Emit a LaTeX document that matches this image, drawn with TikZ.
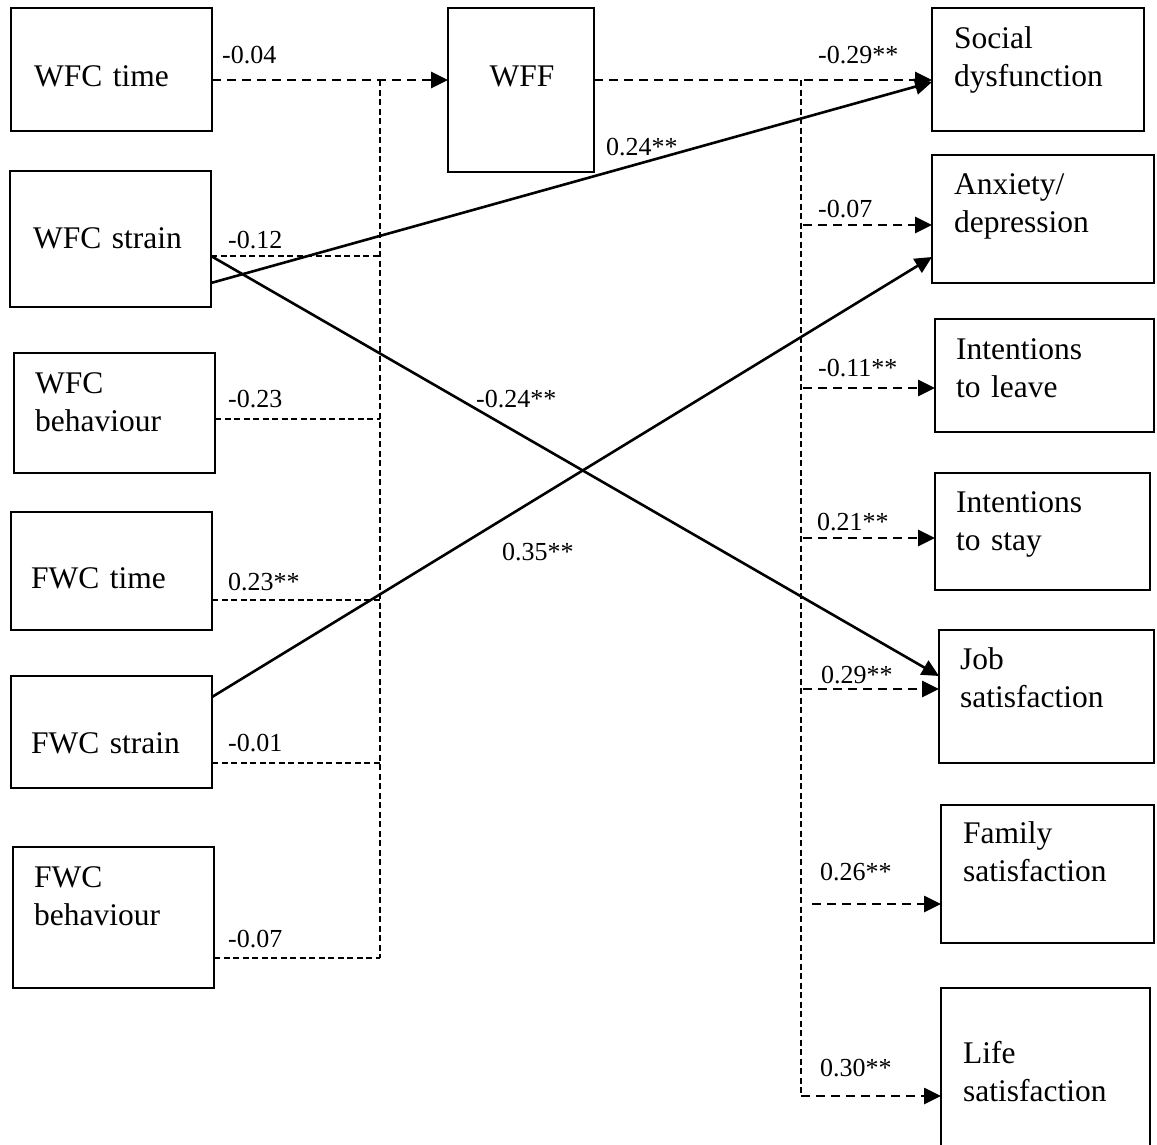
\documentclass[tikz,border=0pt]{standalone}
\usepackage{fontspec}
\setmainfont{Liberation Serif}
\usetikzlibrary{arrows.meta}
\begin{document}
\begin{tikzpicture}[x=1pt,y=-1pt,
  box/.style={draw, line width=2.3pt, inner sep=0pt, outer sep=0pt, anchor=north west},
  boxtext/.style={anchor=base west, inner sep=0pt, text width=190pt, align=left,
    font=\fontsize{31.5}{38}\selectfont},
  coef/.style={anchor=base west, inner sep=0pt, font=\fontsize{26}{30}\selectfont},
  maindash/.style={line width=2.7pt, dash pattern=on 9pt off 6pt},
  feed/.style={line width=1.6pt, dash pattern=on 6pt off 3.5pt},
  direct/.style={line width=2.6pt},
  tip/.style={-{Triangle[length=17pt,width=16pt]}}
]
\useasboundingbox (0,0) rectangle (1157,1144);

% predictors
\node[box, minimum width=201pt, minimum height=123pt] (wfct) at (11,8) {};
\node[box, minimum width=201pt, minimum height=136pt] (wfcs) at (10,171) {};
\node[box, minimum width=201pt, minimum height=120pt] (wfcb) at (14,353) {};
\node[box, minimum width=201pt, minimum height=118pt] (fwct) at (11,512) {};
\node[box, minimum width=201pt, minimum height=112pt] (fwcs) at (11,676) {};
\node[box, minimum width=201pt, minimum height=141pt] (fwcb) at (13,847) {};

% mediator
\node[box, minimum width=146pt, minimum height=164pt] (wff) at (448,8) {};

% outcomes
\node[box, minimum width=212pt, minimum height=123pt] (soc) at (932,8) {};
\node[box, minimum width=222pt, minimum height=128pt] (anx) at (932,155) {};
\node[box, minimum width=219pt, minimum height=113pt] (itl) at (935,319) {};
\node[box, minimum width=215pt, minimum height=117pt] (its) at (935,473) {};
\node[box, minimum width=215pt, minimum height=133pt] (job) at (939,630) {};
\node[box, minimum width=213pt, minimum height=138pt] (fam) at (941,805) {};
\node[box, minimum width=209pt, minimum height=170pt] (life) at (941,988) {};

% box texts
\node[boxtext] (t-wfct) at (34,86) {WFC time};
\node[boxtext] (t-wfcs) at (33,248) {WFC strain};
\node[boxtext] (t-wfcb) at (35,393) {WFC\\behaviour};
\node[boxtext] (t-fwct) at (31,588) {FWC time};
\node[boxtext] (t-fwcs) at (31,753) {FWC strain};
\node[boxtext] (t-fwcb) at (34,887) {FWC\\behaviour};
\node[anchor=base, inner sep=0pt, font=\fontsize{31.5}{38}\selectfont] (t-wff) at (522,86) {WFF};
\node[boxtext] (t-soc) at (954,48) {Social\\dysfunction};
\node[boxtext] (t-anx) at (954,194) {Anxiety/\\depression};
\node[boxtext] (t-itl) at (956,359) {Intentions\\to leave};
\node[boxtext] (t-its) at (956,512) {Intentions\\to stay};
\node[boxtext] (t-job) at (960,669) {Job\\satisfaction};
\node[boxtext] (t-fam) at (963,843) {Family\\satisfaction};
\node[boxtext] (t-life) at (963,1063) {Life\\satisfaction};

% junction points on the two collector lines
\coordinate (lb0) at (380,80);
\coordinate (lb1) at (380,256);
\coordinate (lb2) at (380,419);
\coordinate (lb3) at (380,600);
\coordinate (lb4) at (380,763);
\coordinate (lb5) at (380,958);
\coordinate (rb0) at (801,80);
\coordinate (rb1) at (803,225);
\coordinate (rb2) at (803,388);
\coordinate (rb3) at (803,538);
\coordinate (rb4) at (803,689);
\coordinate (rb5) at (812,904);
\coordinate (rb6) at (801,1096);

% predictors -> WFF
\draw[maindash, tip] (wfct.east |- lb0) -- (wff.west |- lb0);
\draw[feed] (lb0) -- (lb5);
\draw[feed] (wfcs.east |- lb1) -- (lb1);
\draw[feed] (wfcb.east |- lb2) -- (lb2);
\draw[feed] (fwct.east |- lb3) -- (lb3);
\draw[feed] (fwcs.east |- lb4) -- (lb4);
\draw[feed] (fwcb.east |- lb5) -- (lb5);

% WFF -> outcomes
\draw[maindash, tip] (wff.east |- rb0) -- (soc.west |- rb0);
\draw[feed] (rb0) -- (rb6);
\draw[maindash, tip] (rb1) -- (anx.west |- rb1);
\draw[maindash, tip] (rb2) -- (itl.west |- rb2);
\draw[maindash, tip] (rb3) -- (its.west |- rb3);
\draw[maindash, tip] (rb4) -- (job.west |- rb4);
\draw[maindash, tip] (rb5) -- (fam.west |- rb5);
\draw[maindash, tip] (rb6) -- (life.west |- rb6);

% direct effects
\draw[direct, tip] ([yshift=-44pt]wfcs.east) -- ([yshift=-12.5pt]soc.west);
\draw[direct, tip] ([yshift=-17pt]wfcs.east) -- ([yshift=20.5pt]job.west);
\draw[direct, tip] ([yshift=35pt]fwcs.east) -- ([yshift=-38pt]anx.west);

% coefficients
\node[coef] (c1) at (222,63) {-0.04};
\node[coef] (c2) at (228,248) {-0.12};
\node[coef] (c3) at (228,407) {-0.23};
\node[coef] (c4) at (228,590) {0.23**};
\node[coef] (c5) at (228,751) {-0.01};
\node[coef] (c6) at (228,947) {-0.07};
\node[coef] (c7) at (476,407) {-0.24**};
\node[coef] (c8) at (502,560) {0.35**};
\node[coef] (c9) at (606,155) {0.24**};
\node[coef] (c10) at (818,63) {-0.29**};
\node[coef] (c11) at (818,217) {-0.07};
\node[coef] (c12) at (818,376) {-0.11**};
\node[coef] (c13) at (817,530) {0.21**};
\node[coef] (c14) at (821,683) {0.29**};
\node[coef] (c15) at (820,880) {0.26**};
\node[coef] (c16) at (820,1076) {0.30**};
\end{tikzpicture}
\end{document}
